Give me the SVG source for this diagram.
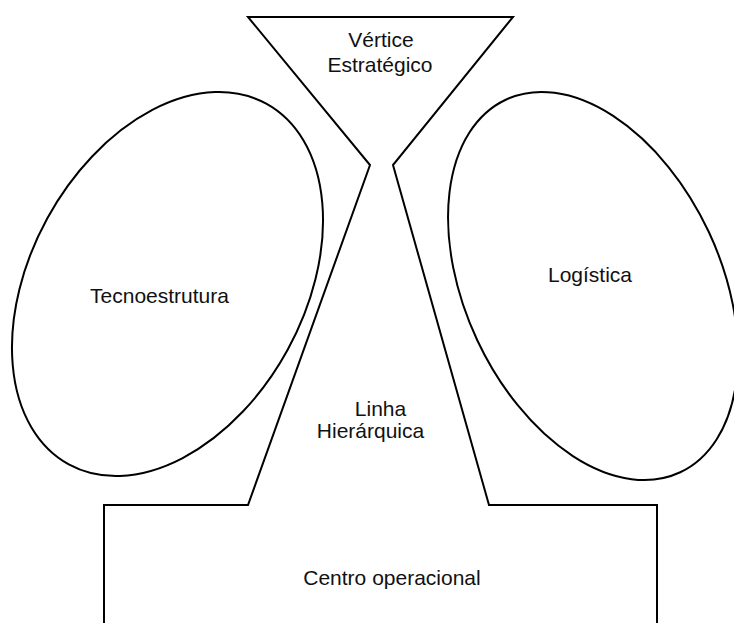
<svg xmlns="http://www.w3.org/2000/svg" width="734" height="623" viewBox="0 0 734 623">
<style>
.shape{fill:none;stroke:#000;stroke-width:2;stroke-linejoin:miter}
.lbl{font-family:"Liberation Sans",Arial,sans-serif;font-size:21px;fill:#111;text-anchor:middle}
</style>
<rect width="734" height="623" fill="#fff"/>
<g id="outline">
<path class="shape" d="M104 630 L104 505 L248 505 L370 165 L248 17 L513 17 L393 165 L489 505 L657 505 L657 630"/>
</g>
<g id="vertice-estrategico">
<text class="lbl" x="381" y="47">Vértice</text>
<text class="lbl" x="380" y="72">Estratégico</text>
</g>
<g id="tecnoestrutura">
<ellipse class="shape" cx="167.5" cy="284" rx="205.6" ry="137" transform="rotate(-61.3 167.5 284)"/>
<text class="lbl" x="159.5" y="303">Tecnoestrutura</text>
</g>
<g id="logistica">
<ellipse class="shape" cx="593" cy="286" rx="205.7" ry="127.8" transform="rotate(64.9 593 286)"/>
<text class="lbl" x="590" y="282">Logística</text>
</g>
<g id="linha-hierarquica">
<text class="lbl" x="380.5" y="416">Linha</text>
<text class="lbl" x="370.5" y="438">Hierárquica</text>
</g>
<g id="centro-operacional">
<text class="lbl" x="392" y="585">Centro operacional</text>
</g>
<g id="connectors"></g>
</svg>
